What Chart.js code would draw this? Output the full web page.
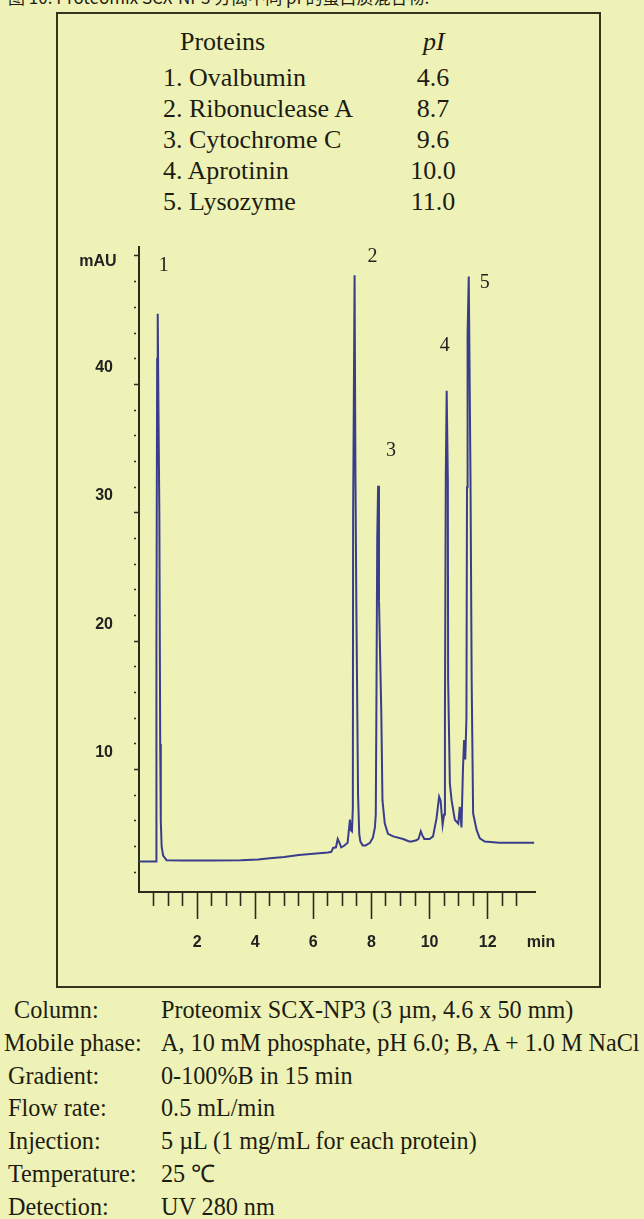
<!DOCTYPE html>
<html lang="zh">
<head>
<meta charset="UTF-8">
<meta name="viewport" content="width=device-width, initial-scale=1.0">
<title>Proteomix SCX-NP3</title>
<script src="https://cdn.jsdelivr.net/npm/chart.js@4.4.0/dist/chart.umd.min.js"></script>
<style>
  html, body { margin: 0; padding: 0; }
  body {
    width: 644px; height: 1219px; position: relative; overflow: hidden;
    background: #eef2b6; color: #1c1c12;
    font-family: "Liberation Serif", "Times New Roman", serif;
  }
  .t { position: absolute; white-space: nowrap; }
  #title { left: 8px; top: -13px; font: 17px/19px "Noto Sans CJK SC", sans-serif; }
  #frame { position: absolute; left: 56px; top: 12px; width: 545px; height: 976px;
           box-sizing: border-box; border: 2px solid #34341f; }
  .tab { font-size: 26px; line-height: 26px; }
  .cond { font-size: 24.2px; line-height: 24px; }
  #chrom { position: absolute; left: 0; top: 0; }
</style>
</head>
<body>

<div id="title" class="t">图 10. Proteomix SCX-NP3 分离不同 pI 的蛋白质混合物.</div>
<div id="frame"></div>
<div id="texts"></div>
<canvas id="chrom" width="644" height="1219"></canvas>

<script>
// proteins in the mix and their pI
const proteinNames = ['1. Ovalbumin', '2. Ribonuclease A', '3. Cytochrome C', '4. Aprotinin', '5. Lysozyme'];
const proteinPI = ['4.6', '8.7', '9.6', '10.0', '11.0'];

// run conditions under the frame
const condLabels = ['Column:', 'Mobile phase:', 'Gradient:', 'Flow rate:', 'Injection:', 'Temperature:', 'Detection:'];
const condValues = [
  'Proteomix SCX-NP3 (3 µm, 4.6 x 50 mm)',
  'A, 10 mM phosphate, pH 6.0; B, A + 1.0 M NaCl',
  '0-100%B in 15 min',
  '0.5 mL/min',
  '5 µL (1 mg/mL for each protein)',
  '25 ℃',
  'UV 280 nm'
];

// chromatogram (min, mAU)
const timeMin = [
  0.00, 0.59, 0.60, 0.625, 0.645, 0.67, 0.70, 0.73, 0.75, 0.78, 0.83, 0.95,
  1.50, 2.50, 3.50, 4.10, 4.50, 5.00, 5.50, 6.00, 6.50, 6.62, 6.68, 6.78,
  6.84, 6.90, 6.96, 7.05, 7.18, 7.22, 7.26, 7.29, 7.33, 7.36, 7.37, 7.42,
  7.45, 7.48, 7.54, 7.58, 7.62, 7.70, 7.80, 7.95, 8.05, 8.12, 8.15, 8.17,
  8.20, 8.23, 8.26, 8.34, 8.38, 8.46, 8.57, 8.75, 9.09, 9.30, 9.38, 9.55,
  9.62, 9.70, 9.75, 9.82, 10.00, 10.12, 10.24, 10.33, 10.38, 10.45, 10.50, 10.53,
  10.56, 10.59, 10.63, 10.64, 10.70, 10.76, 10.87, 10.99, 11.04, 11.10, 11.15, 11.19,
  11.23, 11.27, 11.29, 11.31, 11.35, 11.41, 11.45, 11.50, 11.62, 11.73, 11.90, 12.40,
  13.00, 13.60
];
const signalMAU = [
  2.85, 2.85, 20, 42, 45.5, 38, 30, 12, 6, 4, 3.3, 2.95,
  2.92, 2.92, 2.95, 3.0, 3.1, 3.2, 3.35, 3.45, 3.55, 3.6, 3.9, 3.95,
  4.6, 4.3, 3.95, 4.05, 4.3, 5.2, 6.1, 5.3, 5.2, 7, 30, 48.5,
  33, 23, 8, 5, 4.4, 4.1, 4.1, 4.3, 4.7, 5.5, 6.5, 14.4,
  28, 32.1, 23.2, 14.4, 7.6, 5.8, 5.0, 4.8, 4.6, 4.4, 4.4, 4.5,
  4.6, 5.2, 4.9, 4.6, 4.6, 4.8, 6.2, 7.9, 7.6, 5.7, 6.5, 14.4,
  33, 39.5, 32.6, 17, 8.9, 7.6, 6.1, 5.8, 7.1, 5.5, 10, 12.3,
  10.8, 14, 32, 44, 48.4, 32.6, 17, 6.6, 5.3, 4.65, 4.4, 4.3,
  4.3, 4.3
];

// numbered peaks
const peakNumbers = ['1', '2', '3', '4', '5'];
const peakTimes = [0.645, 7.42, 8.23, 10.59, 11.35];
const peakHeights = [45.5, 48.5, 32.1, 39.5, 48.4];

// axis ticks
const xTickValues = [0.5, 1, 1.5, 2, 2.5, 3, 3.5, 4, 4.5, 5, 5.5, 6, 6.5, 7, 7.5, 8, 8.5, 9, 9.5, 10, 10.5, 11, 11.5, 12, 12.5, 13];
const yTickValues = [2, 4, 6, 8, 10, 12, 14, 16, 18, 20, 22, 24, 26, 28, 30, 32, 34, 36, 38, 40, 42, 44, 46, 48, 50];

// --- text blocks (HTML) ---
const texts = document.getElementById('texts');
function addText(str, left, top, cls, extra) {
  const d = document.createElement('div');
  d.className = 't ' + cls;
  d.textContent = str;
  d.style.left = left + 'px';
  d.style.top = top + 'px';
  if (extra) Object.assign(d.style, extra);
  texts.appendChild(d);
}
addText('Proteins', 180, 29, 'tab');
addText('pI', 423, 29, 'tab', { fontStyle: 'italic' });
proteinNames.forEach((n, i) => {
  const top = 65 + i * 31;
  addText(n, 163, top, 'tab');
  addText(proteinPI[i], 403, top, 'tab', { width: '60px', textAlign: 'center' });
});
condLabels.forEach((l, i) => {
  const top = 998 + i * 32.8;
  addText(l, i === 0 ? 14 : (i === 1 ? 4 : 8), top, 'cond');
  addText(condValues[i], 161, top, 'cond');
});

// --- chart ---
const axisColor = '#2c2c1c';
const tickFont = { family: 'Liberation Sans', size: 16, weight: 'bold' };
const peakOffsets = [[6, -48], [18, -19], [13, -35], [-2, -45], [16, 6]];

const extraText = {
  id: 'extraText',
  afterDraw(chart) {
    const { ctx, scales: { x, y } } = chart;
    ctx.save();
    ctx.fillStyle = '#222';
    ctx.textAlign = 'center';
    ctx.textBaseline = 'middle';
    ctx.font = 'bold 16px "Liberation Sans"';
    ctx.fillText('mAU', y.right - 41, y.top + 15);
    ctx.fillText('min', x.right + 6, x.top + 51);
    ctx.font = '20px "Liberation Serif"';
    peakNumbers.forEach((n, i) => {
      const px = x.getPixelForValue(peakTimes[i]) + peakOffsets[i][0];
      const py = y.getPixelForValue(peakHeights[i]) + peakOffsets[i][1];
      ctx.fillText(n, px, py);
    });
    ctx.restore();
  }
};

new Chart(document.getElementById('chrom'), {
  type: 'line',
  data: {
    datasets: [{
      label: 'UV 280 nm',
      data: timeMin.map((t, i) => ({ x: t, y: signalMAU[i] })),
      borderColor: '#3a3d8c',
      borderWidth: 2,
      pointRadius: 0,
      tension: 0,
      fill: false
    }]
  },
  options: {
    responsive: false,
    animation: false,
    devicePixelRatio: 1,
    layout: { padding: { left: 0, top: 247, right: 109, bottom: 267 } },
    plugins: { legend: { display: false }, tooltip: { enabled: false } },
    scales: {
      x: {
        type: 'linear', min: 0, max: 13.63,
        afterBuildTicks: s => { s.ticks = xTickValues.map(v => ({ value: v })); },
        afterFit: s => { s.height = 60; },
        border: { display: true, color: axisColor, width: 2 },
        grid: {
          drawOnChartArea: false, tickLength: 27, tickColor: axisColor, tickWidth: 1.6,
          tickBorderDash: c => (c.tick && c.tick.value % 2 === 0) ? [] : [13, 40]
        },
        ticks: {
          autoSkip: false, maxRotation: 0, padding: 14, color: '#222', font: tickFont,
          callback: v => v % 2 === 0 ? String(v) : ''
        }
      },
      y: {
        type: 'linear', min: 0.47, max: 50.7,
        afterBuildTicks: s => { s.ticks = yTickValues.map(v => ({ value: v })); },
        afterFit: s => { s.width = 139; },
        border: { display: true, color: axisColor, width: 2 },
        grid: {
          drawOnChartArea: false, tickLength: 5, tickColor: axisColor, tickWidth: 1.5,
          tickBorderDash: c => (c.tick && c.tick.value % 10 === 0) ? [] : [2, 20]
        },
        ticks: {
          autoSkip: false, padding: 21, labelOffset: -17, color: '#222', font: tickFont,
          callback: v => (v % 10 === 0 && v < 50) ? String(v) : ''
        }
      }
    }
  },
  plugins: [extraText]
});
</script>
</body>
</html>
